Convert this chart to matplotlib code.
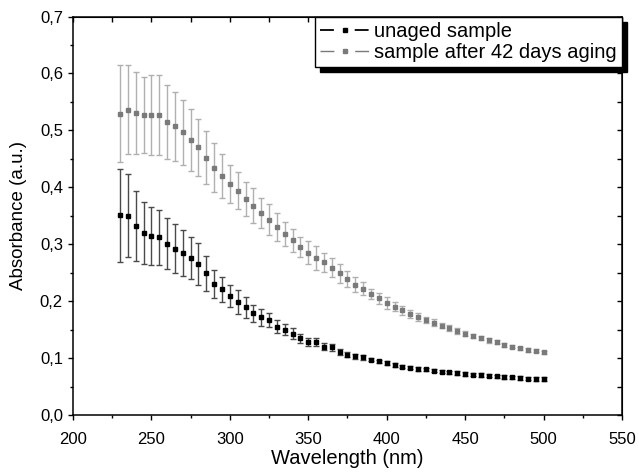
import numpy as np
import matplotlib
matplotlib.use('Agg')
import matplotlib.pyplot as plt
from matplotlib.lines import Line2D
from matplotlib.ticker import MultipleLocator, FuncFormatter

plt.rcParams['font.family'] = ['Liberation Sans', 'DejaVu Sans']
plt.rcParams['lines.scale_dashes'] = False

# wavelength (nm)
wavelength = list(range(230, 505, 5))

# unaged sample
unaged = [0.351, 0.350, 0.332, 0.320, 0.315, 0.312, 0.301, 0.292, 0.285, 0.276,
          0.266, 0.249, 0.230, 0.221, 0.209, 0.198, 0.189, 0.179, 0.172, 0.167,
          0.155, 0.150, 0.143, 0.135, 0.128, 0.128, 0.120, 0.119, 0.111, 0.106,
          0.103, 0.101, 0.097, 0.094, 0.091, 0.088, 0.085, 0.083, 0.081, 0.080,
          0.078, 0.076, 0.075, 0.074, 0.072, 0.071, 0.070, 0.069, 0.068, 0.067,
          0.066, 0.065, 0.064, 0.063, 0.063]
unaged_err = [0.082, 0.073, 0.061, 0.055, 0.051, 0.048, 0.045, 0.043, 0.040, 0.037,
              0.037, 0.031, 0.024, 0.022, 0.020, 0.021, 0.019, 0.015, 0.015, 0.012,
              0.011, 0.010, 0.010, 0.008, 0.007, 0.007, 0.006, 0.006, 0.005, 0.005,
              0.004, 0.004, 0.003, 0.003, 0.003, 0.003, 0.003, 0.003, 0.003, 0.003,
              0.003, 0.003, 0.003, 0.003, 0.003, 0.003, 0.003, 0.003, 0.003, 0.003,
              0.003, 0.003, 0.003, 0.003, 0.003]

# sample after 42 days aging
aged = [0.529, 0.536, 0.531, 0.527, 0.527, 0.527, 0.515, 0.507, 0.497, 0.483,
        0.470, 0.452, 0.434, 0.420, 0.406, 0.394, 0.380, 0.368, 0.355, 0.343,
        0.330, 0.318, 0.307, 0.295, 0.285, 0.276, 0.268, 0.259, 0.249, 0.239,
        0.229, 0.222, 0.212, 0.205, 0.197, 0.190, 0.184, 0.178, 0.172, 0.167,
        0.162, 0.157, 0.153, 0.148, 0.143, 0.139, 0.135, 0.131, 0.128, 0.123,
        0.120, 0.117, 0.114, 0.113, 0.110]
aged_err = [0.085, 0.078, 0.072, 0.067, 0.070, 0.070, 0.065, 0.060, 0.057, 0.055,
            0.050, 0.047, 0.043, 0.039, 0.034, 0.032, 0.030, 0.030, 0.026, 0.027,
            0.024, 0.021, 0.020, 0.017, 0.020, 0.021, 0.017, 0.016, 0.017, 0.014,
            0.013, 0.011, 0.009, 0.010, 0.010, 0.008, 0.008, 0.007, 0.007, 0.006,
            0.006, 0.005, 0.005, 0.005, 0.004, 0.004, 0.004, 0.004, 0.003, 0.003,
            0.003, 0.003, 0.003, 0.003, 0.003]

labels = ['unaged sample', 'sample after 42 days aging']

fig = plt.figure(figsize=(6.39, 4.72), dpi=100)
ax = fig.add_axes([0.1142, 0.1208, 0.8592, 0.8442])

ax.errorbar(wavelength, aged, yerr=aged_err, fmt='none', ecolor='#b0b0b0',
            elinewidth=1.0, capsize=2.5, capthick=1.0, zorder=2)
ax.plot(wavelength, aged, 's', color='#7a7a7a', markersize=3.5, zorder=3)
ax.errorbar(wavelength, unaged, yerr=unaged_err, fmt='none', ecolor='#4a4a4a',
            elinewidth=1.0, capsize=2.5, capthick=1.0, zorder=4)
ax.plot(wavelength, unaged, 's', color='black', markersize=3.5, zorder=5)

ax.set_xlim(200, 550)
ax.set_ylim(0, 0.7)
ax.xaxis.set_major_locator(MultipleLocator(50))
ax.xaxis.set_minor_locator(MultipleLocator(25))
ax.yaxis.set_major_locator(MultipleLocator(0.1))
ax.yaxis.set_minor_locator(MultipleLocator(0.05))
ax.yaxis.set_major_formatter(FuncFormatter(lambda v, p: ('%.1f' % v).replace('.', ',')))

for s in ax.spines.values():
    s.set_linewidth(1.1)
# left/bottom ticks outward, top/right ticks inward (Origin style)
ax.tick_params(which='both', width=1.0, labelsize=12, direction='out')
ax.tick_params(which='major', length=3.6)
ax.tick_params(which='minor', length=2.5)
ax.tick_params(axis='x', which='major', pad=9)
ax.tick_params(axis='y', which='major', pad=3.6)

ax_top = ax.secondary_xaxis('top')
ax_top.xaxis.set_major_locator(MultipleLocator(50))
ax_top.xaxis.set_minor_locator(MultipleLocator(25))
ax_top.tick_params(which='both', direction='in', length=3.6, width=1.0,
                   labeltop=False)
ax_right = ax.secondary_yaxis('right')
ax_right.yaxis.set_major_locator(MultipleLocator(0.1))
ax_right.yaxis.set_minor_locator(MultipleLocator(0.05))
ax_right.tick_params(which='both', direction='in', length=3.6, width=1.0,
                     labelright=False)

ax.set_xlabel('Wavelength (nm)', fontsize=14.5, labelpad=1)
ax.set_ylabel('Absorbance (a.u.)', fontsize=13.5, labelpad=9)

h_black = (Line2D([], [], color='black', lw=1.3, dashes=(10, 15)),
           Line2D([], [], color='black', marker='s', markersize=3.5, ls='none'))
h_gray = (Line2D([], [], color='#7a7a7a', lw=1.0, dashes=(10, 15)),
          Line2D([], [], color='#7a7a7a', marker='s', markersize=3.5, ls='none'))
leg = ax.legend([h_black, h_gray], labels, loc='upper right', fontsize=14.5,
                frameon=True, fancybox=False, framealpha=1, edgecolor='black',
                borderaxespad=0.0, handlelength=2.43, handletextpad=0.25,
                labelspacing=0.1, borderpad=0.25,
                shadow={'color': 'black', 'alpha': 1, 'ox': 3.6, 'oy': -3.6})
leg.get_frame().set_linewidth(1.0)

fig.savefig('out.png', dpi=100)
